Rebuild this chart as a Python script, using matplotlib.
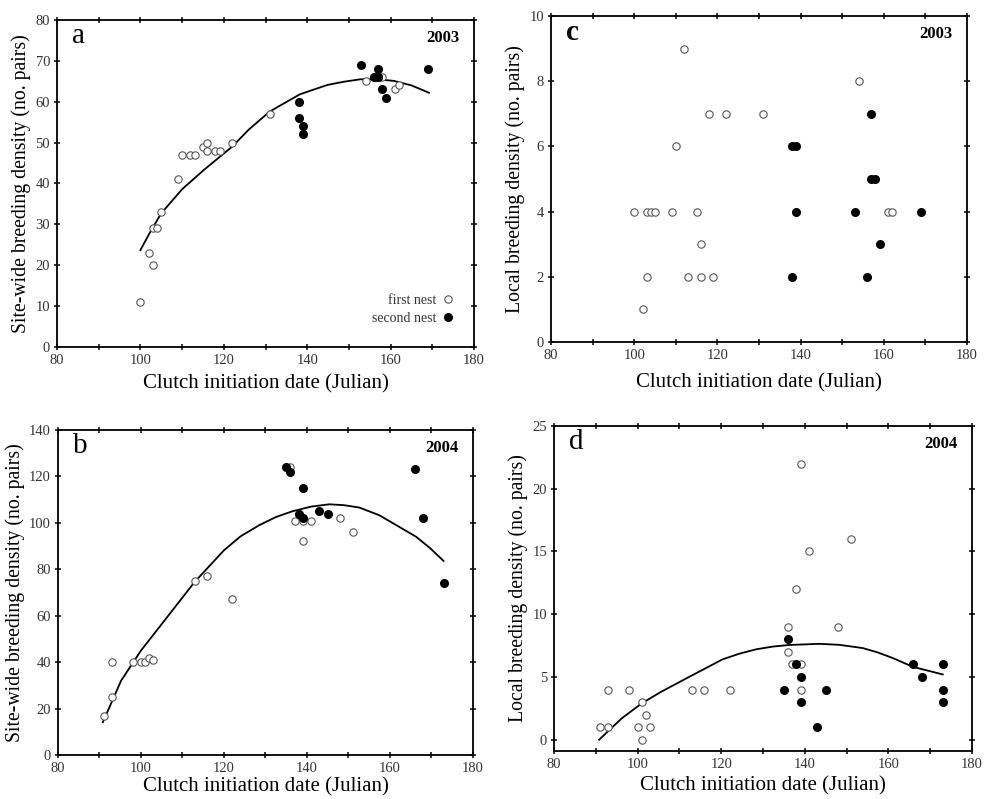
import numpy as np
import matplotlib
matplotlib.use('Agg')
import matplotlib.pyplot as plt
from matplotlib.ticker import MultipleLocator

plt.rcParams['font.family'] = ['Liberation Serif', 'DejaVu Serif']
plt.rcParams['axes.linewidth'] = 1.3

## data
# panel a: 2003 site-wide density
a_first_x = [100, 102, 103, 103, 104, 105, 109, 110, 112, 113, 115, 116, 116, 118, 119, 122, 131, 154, 158, 161, 162]
a_first_y = [11, 23, 20, 29, 29, 33, 41, 47, 47, 47, 49, 50, 48, 48, 48, 50, 57, 65, 66, 63, 64]
a_second_x = [153, 138, 138, 139, 139, 156, 157, 157, 157, 158, 159, 169]
a_second_y = [69, 60, 56, 54, 52, 66, 66, 66, 68, 63, 61, 68]
a_fit_x = [100, 102.5, 105, 110, 115.2, 122, 126, 131, 138.2, 144.8, 148.8, 152.8, 156.8, 160.8, 165, 169.2]
a_fit_y = [23.7, 28.4, 32.7, 38.6, 43.3, 49.0, 53.2, 57.6, 61.8, 64.1, 64.9, 65.5, 65.5, 65.1, 64.0, 62.2]

# panel c: 2003 local density
c_first_x = [112, 154, 118, 122, 131, 110, 100, 103, 104, 105, 109, 115, 161, 162, 116, 103, 113, 116, 119, 102]
c_first_y = [9, 8, 7, 7, 7, 6, 4, 4, 4, 4, 4, 4, 4, 4, 3, 2, 2, 2, 2, 1]
c_second_x = [157, 138, 139, 157, 158, 139, 153, 169, 159, 138, 156]
c_second_y = [7, 6, 6, 5, 5, 4, 4, 4, 3, 2, 2]

# panel b: 2004 site-wide density
b_first_x = [91, 93, 93, 98, 100, 101, 102, 103, 113, 116, 122, 136, 137, 139, 141, 139, 148, 151]
b_first_y = [17, 25, 40, 40, 40, 40, 42, 41, 75, 77, 67, 124, 101, 101, 101, 92, 102, 96]
b_second_x = [135, 136, 139, 138, 139, 143, 145, 166, 168, 173]
b_second_y = [124, 122, 115, 104, 102, 105, 104, 123, 102, 74]
b_fit_x = [90.8, 95.2, 100, 106, 112.9, 120, 124, 128.5, 132.5, 136.5, 141, 145.4, 149, 152.6, 157.4, 162.2, 166.3, 169.6, 172.9]
b_fit_y = [14.1, 32, 45, 58.7, 74.5, 88.2, 94.2, 99, 102.5, 105, 107, 108, 107.6, 106.6, 103.3, 98.3, 94, 89.2, 83.6]

# panel d: 2004 local density
d_first_x = [91, 93, 93, 98, 100, 101, 101, 102, 103, 113, 116, 122, 136, 136, 137, 139, 139, 138, 139, 141, 148, 151]
d_first_y = [1, 1, 4, 4, 1, 3, 0, 2, 1, 4, 4, 4, 9, 7, 6, 6, 4, 12, 22, 15, 9, 16]
d_second_x = [136, 138, 139, 135, 139, 145, 143, 166, 168, 173, 173, 173]
d_second_y = [8, 6, 5, 4, 3, 4, 1, 6, 5, 6, 4, 3]
d_fit_x = [90.8, 96.2, 101, 105.8, 112.3, 120.3, 124.3, 128.3, 132.3, 136.3, 143.5, 148.3, 153.9, 157.5, 161.1, 165.9, 169.5, 173]
d_fit_y = [0, 1.7, 2.9, 3.85, 5.0, 6.4, 6.85, 7.2, 7.42, 7.55, 7.64, 7.56, 7.3, 6.95, 6.5, 5.8, 5.5, 5.2]

W, H = 990, 799
fig = plt.figure(figsize=(W / 100, H / 100), dpi=100)


def make_ax(l, t, r, b):
    return fig.add_axes([l / W, (H - b) / H, (r - l) / W, (b - t) / H])


def style(ax, ylim, ystep, ylabel, letter, year, xpad=2, lbold=False):
    ax.set_xlim(80, 180)
    ax.set_ylim(*ylim)
    ax.xaxis.set_major_locator(MultipleLocator(20))
    ax.xaxis.set_minor_locator(MultipleLocator(10))
    ax.yaxis.set_major_locator(MultipleLocator(ystep))
    ax.tick_params(which='both', direction='inout', length=5, width=1.1,
                   top=True, right=True, labelsize=10.5, pad=2.5,
                   labelcolor='#333333')
    ax.set_xlabel('Clutch initiation date (Julian)', fontsize=15, labelpad=xpad)
    ax.set_ylabel(ylabel, fontsize=14.2, labelpad=3)
    ax.text(0.035, 0.99, letter, transform=ax.transAxes, fontsize=21,
            va='top', ha='left', fontweight='bold' if lbold else 'normal')
    ax.text(0.965, 0.945, year, transform=ax.transAxes, fontsize=12,
            fontweight='bold', va='center', ha='right')


def points(ax, fx, fy, sx, sy):
    ax.plot(fx, fy, 'o', ls='none', ms=5.3, mfc='white', mec='#555555',
            mew=0.8, label='first nest', zorder=3)
    ax.plot(sx, sy, 'o', ls='none', ms=5.5, mfc='black', mec='black',
            label='second nest', zorder=4)


site_lab = 'Site-wide breeding density (no. pairs)'
local_lab = 'Local breeding density (no. pairs)'

ax_a = make_ax(57, 20, 474, 347)
points(ax_a, a_first_x, a_first_y, a_second_x, a_second_y)
ax_a.plot(a_fit_x, a_fit_y, color='black', lw=1.3, zorder=2)
style(ax_a, (0, 80), 10, site_lab, 'a', '2003', xpad=5)
ax_a.legend(loc='lower right', frameon=False, markerfirst=False, fontsize=10,
            handlelength=0.6, handletextpad=0.5, borderaxespad=1.2,
            labelspacing=0.35, labelcolor='#333333')

ax_c = make_ax(551, 16, 967, 342)
points(ax_c, c_first_x, c_first_y, c_second_x, c_second_y)
style(ax_c, (0, 10), 2, local_lab, 'c', '2003', xpad=8, lbold=True)

ax_b = make_ax(58, 430, 473, 755)
points(ax_b, b_first_x, b_first_y, b_second_x, b_second_y)
ax_b.plot(b_fit_x, b_fit_y, color='black', lw=1.3, zorder=2)
style(ax_b, (0, 140), 20, site_lab, 'b', '2004', xpad=2)

ax_d = make_ax(554, 426, 972, 751)
points(ax_d, d_first_x, d_first_y, d_second_x, d_second_y)
ax_d.plot(d_fit_x, d_fit_y, color='black', lw=1.3, zorder=2)
style(ax_d, (-0.9, 25), 5, local_lab, 'd', '2004', xpad=4)

fig.savefig('out.png', dpi=100)
